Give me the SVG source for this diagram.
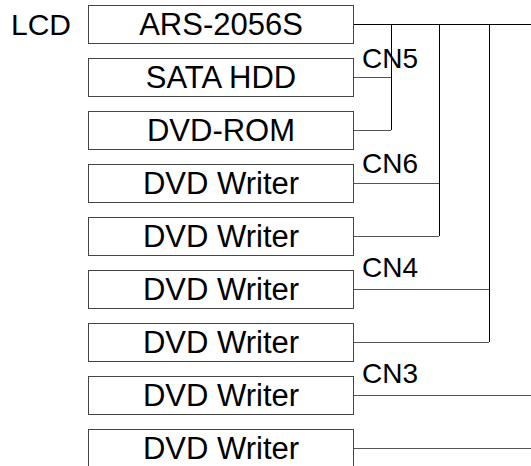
<svg xmlns="http://www.w3.org/2000/svg" width="531" height="466" viewBox="0 0 531 466">
<style>
.box{fill:#fff;stroke:#444;stroke-width:1}
.t{font-family:"Liberation Sans",Arial,sans-serif;font-size:31px;fill:#000;text-anchor:middle}
.lbl{font-family:"Liberation Sans",Arial,sans-serif;font-size:28px;fill:#000}
.h{stroke:#555;stroke-width:1;fill:none}
.v{stroke:#000;stroke-width:1;fill:none}
</style>
<rect width="531" height="466" fill="#fff"/>
<text class="lbl" x="11" y="35" style="font-size:30px">LCD</text>
<g id="n1"><rect class="box" x="88.5" y="5.5" width="265" height="38"/><text class="t" x="221" y="35">ARS-2056S</text></g>
<g id="n2"><rect class="box" x="88.5" y="58.5" width="265" height="38"/><text class="t" x="221" y="88">SATA HDD</text></g>
<g id="n3"><rect class="box" x="88.5" y="111.5" width="265" height="38"/><text class="t" x="221" y="141">DVD-ROM</text></g>
<g id="n4"><rect class="box" x="88.5" y="164.5" width="265" height="38"/><text class="t" x="221" y="194">DVD Writer</text></g>
<g id="n5"><rect class="box" x="88.5" y="217.5" width="265" height="38"/><text class="t" x="221" y="247">DVD Writer</text></g>
<g id="n6"><rect class="box" x="88.5" y="270.5" width="265" height="38"/><text class="t" x="221" y="300">DVD Writer</text></g>
<g id="n7"><rect class="box" x="88.5" y="323.5" width="265" height="38"/><text class="t" x="221" y="353">DVD Writer</text></g>
<g id="n8"><rect class="box" x="88.5" y="376.5" width="265" height="38"/><text class="t" x="221" y="406">DVD Writer</text></g>
<g id="n9"><rect class="box" x="88.5" y="429.5" width="265" height="40"/><text class="t" x="221" y="459">DVD Writer</text></g>
<g id="connectors">
<path class="v" d="M354 24.5H531"/>
<path class="v" d="M391.5 24V130M439.5 24V236M489.5 24V342"/>
<path class="h" d="M354 77.5H391M354 130.5H391M354 183.5H439M354 236.5H439M354 289.5H489M354 342.5H489M354 395.5H531M354 448.5H531"/>
</g>
<text class="lbl" x="362" y="68">CN5</text>
<text class="lbl" x="362" y="173">CN6</text>
<text class="lbl" x="362" y="277">CN4</text>
<text class="lbl" x="362" y="383">CN3</text>
</svg>
